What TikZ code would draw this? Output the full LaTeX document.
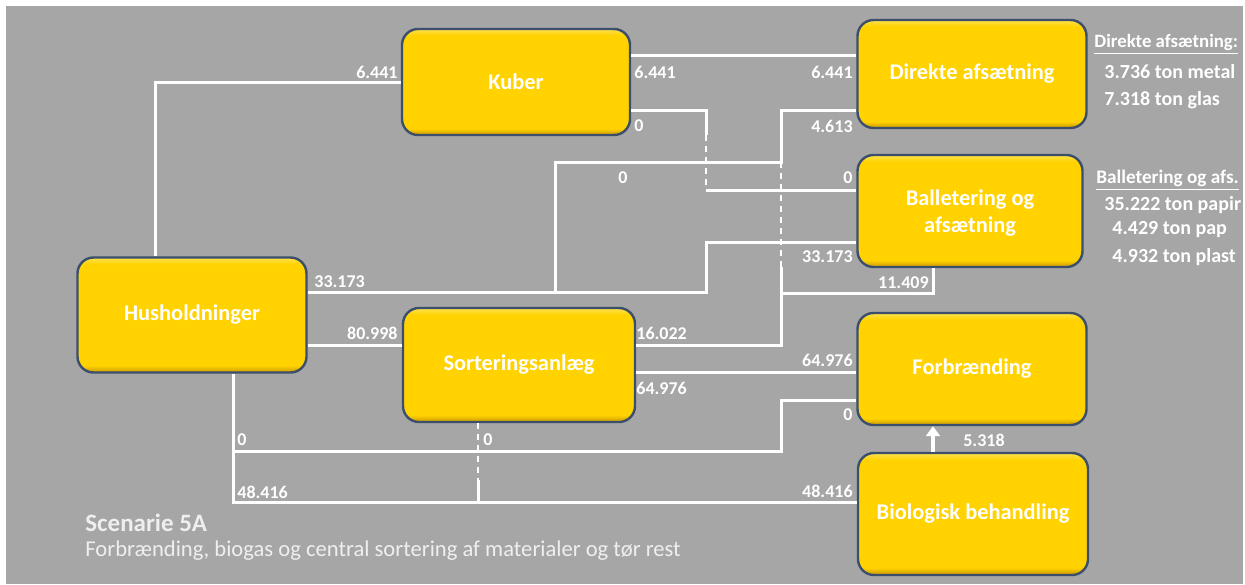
\documentclass[tikz,border=0pt]{standalone}
\usepackage{fontspec}
\setmainfont{Carlito}
\usepackage{tikz}
\usetikzlibrary{calc, positioning, arrows.meta}
\definecolor{baggrund}{HTML}{A6A6A6}
\definecolor{gul}{HTML}{FFD200}
\definecolor{guldmoerk}{HTML}{C99700}
\definecolor{guldlys}{HTML}{FFE24F}
\definecolor{kant}{HTML}{3B4E6B}
\definecolor{lystekst}{HTML}{EFEFEF}
\pgfdeclareverticalshading{bevel}{100bp}{color(0bp)=(guldmoerk); color(25bp)=(guldmoerk); color(28bp)=(gul); color(72bp)=(gul); color(75bp)=(guldlys); color(100bp)=(guldlys)}
\tikzset{
  boks/.style={rectangle, rounded corners=8pt, draw=kant, line width=1.2pt, shading=bevel,
    text=white, font=\fontsize{11.2}{13.5}\selectfont\bfseries, align=center, inner sep=0pt},
  flow/.style={draw=white, line width=1.5pt},
  nul/.style={draw=white, line width=1.2pt, dash pattern=on 3pt off 2.5pt},
  tal/.style={text=white, font=\fontsize{9}{11}\selectfont\bfseries, inner sep=1pt},
  info/.style={text=white, font=\fontsize{10}{12}\selectfont\bfseries, inner sep=0pt, anchor=west},
}

\begin{document}
\begin{tikzpicture}[x=0.5pt, y=-0.5pt]
\fill[white] (0,0) rectangle (1245,584);
\fill[baggrund] (6,6) rectangle (1243,584);
\useasboundingbox (0,0) rectangle (1245,584);

\node[boks, minimum width=114pt, minimum height=53pt] (kuber) at (516,82) {Kuber};
\node[boks, minimum width=114.5pt, minimum height=54pt] (direkte) at (972,74) {Direkte afsætning};
\node[boks, minimum width=112.5pt, minimum height=56pt, text depth=0pt] (ballet) at (970,211) {Balletering og\\afsætning};
\node[boks, minimum width=114.5pt, minimum height=57.5pt] (hush) at (192,315) {Husholdninger};
\node[boks, minimum width=116pt, minimum height=57pt] (sort) at (519,365) {Sorteringsanlæg};
\node[boks, minimum width=114.5pt, minimum height=56pt] (forbr) at (972,369) {Forbrænding};
\node[boks, minimum width=115pt, minimum height=61pt] (bio) at (973,514) {Biologisk behandling};

\draw[flow] (hush.north west) ++(79,0) |- (kuber.west);
\draw[flow] (kuber.east |- 0,55) -- (direkte.west |- 0,55);
\draw[flow] (kuber.east |- 0,110) -- (706,110) -- (706,135);
\draw[nul] (706,135) -- (706,190);
\draw[flow] (706,190) -- (ballet.west |- 0,190);
\draw[flow] (hush.east |- 0,292) -- (706,292) |- (ballet.west |- 0,242);
\draw[flow] (555,292) |- (781,162) |- (direkte.west |- 0,110);
\draw[nul] (781,162) -- (781,267);
\draw[flow] (sort.east |- 0,345) -| (781,267);
\draw[flow] (781,293) -| (ballet.south -| 933,0);
\draw[flow] (hush.east |- 0,345) -- (sort.west |- 0,345);
\draw[flow] (sort.east |- 0,372) -- (forbr.west |- 0,372);
\draw[flow] (hush.south -| 233,0) |- (bio.west |- 0,502);
\draw[flow] (233,451) -| (781,400) -- (forbr.west |- 0,400);
\draw[nul] (sort.south -| 478,0) -- (478,480);
\draw[flow] (478,480) -- (478,502);
\draw[flow, line width=2pt, -{Triangle[width=7pt,length=5pt]}] (bio.north -| 933,0) -- (forbr.south -| 933,0);

\node[tal, anchor=east] (t1) at (400,72) {6.441};
\node[tal, anchor=west] (t2) at (632,72) {6.441};
\node[tal, anchor=east] (t3) at (855,72) {6.441};
\node[tal, anchor=west] (t4) at (632,126) {0};
\node[tal, anchor=east] (t5) at (855,126) {4.613};
\node[tal] (t6) at (623,178) {0};
\node[tal, anchor=east] (t7) at (855,178) {0};
\node[tal, anchor=east] (t8) at (855,257) {33.173};
\node[tal, anchor=west] (t9) at (312,282) {33.173};
\node[tal, anchor=east] (t10) at (931,283) {11.409};
\node[tal, anchor=east] (t11) at (400,333) {80.998};
\node[tal, anchor=west] (t12) at (634,333) {16.022};
\node[tal, anchor=east] (t13) at (855,360) {64.976};
\node[tal, anchor=west] (t14) at (634,388) {64.976};
\node[tal, anchor=east] (t15) at (855,415) {0};
\node[tal] (t16) at (984,440) {5.318};
\node[tal, anchor=west] (t17) at (235,440) {0};
\node[tal, anchor=west] (t18) at (235,492) {48.416};
\node[tal, anchor=east] (t19) at (855,491) {48.416};
\node[tal, anchor=west] (t20) at (481,440) {0};

\node[info, font=\fontsize{9.4}{12}\selectfont\bfseries] (d0) at (1094,44) {\underline{Direkte afsætning:}};
\node[info] (d1) at (1104,72) {3.736 ton metal};
\node[info] (d2) at (1104,100) {7.318 ton glas};
\node[info, font=\fontsize{9.6}{12}\selectfont\bfseries] (b0) at (1096,180) {\underline{Balletering og afs.}};
\node[info] (b1) at (1104,205) {35.222 ton papir};
\node[info] (b2) at (1112,230) {4.429 ton pap};
\node[info] (b3) at (1112,257) {4.932 ton plast};

\node[anchor=west, text=lystekst, font=\fontsize{12.5}{15}\selectfont\bfseries, inner sep=0pt] (titel) at (85,523) {Scenarie 5A};
\node[anchor=west, text=lystekst, font=\fontsize{11.3}{13}\selectfont, inner sep=0pt] (undertitel) at (85,551) {Forbrænding, biogas og central sortering af materialer og tør rest};
\end{tikzpicture}
\end{document}
